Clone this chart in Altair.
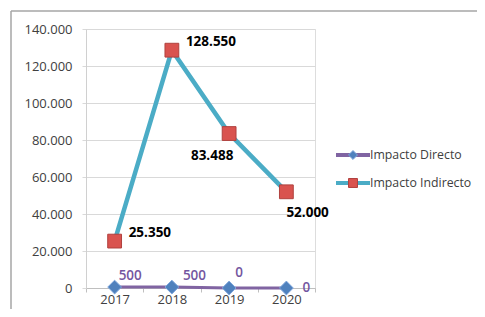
import altair as alt
import pandas as pd

years = ["2017", "2018", "2019", "2020"]
directo = [500, 500, 0, 0]
indirecto = [25350, 128550, 83488, 52000]
series = ["Impacto Directo", "Impacto Indirecto"]
y_ticks = [0, 20000, 40000, 60000, 80000, 100000, 120000, 140000]

rows = []
for i, yr in enumerate(years):
    rows.append({"year": yr, "series": series[0], "value": directo[i]})
    rows.append({"year": yr, "series": series[1], "value": indirecto[i]})
df = pd.DataFrame(rows)
leg_df = pd.DataFrame({"series": series})

FONT = "Open Sans"
fmt = "replace(format(datum.value, ','), ',', '.')"

x_enc = alt.X(
    "year:N",
    sort=years,
    bandPosition=0.5,
    scale=alt.Scale(type="band", paddingInner=0, paddingOuter=0),
    axis=alt.Axis(title=None, labelAngle=0, grid=False, tickBand="extent", tickSize=4,
                  tickColor="#bfbfbf", domainColor="#bfbfbf", labelPadding=1,
                  labelFont=FONT, labelFontSize=13, labelColor="#404040"),
)
y_enc = alt.Y(
    "value:Q",
    scale=alt.Scale(domain=[0, 140000], nice=False),
    axis=alt.Axis(title=None, values=y_ticks, grid=True, gridColor="#d9d9d9", tickSize=4,
                  tickColor="#d9d9d9", domainColor="#d0d0d0", labelPadding=10,
                  labelFont=FONT, labelFontSize=13, labelColor="#404040", labelExpr=fmt),
)

base = alt.Chart(df).encode(x=x_enc, y=y_enc)

line_ind = base.transform_filter(alt.datum.series == series[1]).mark_line(
    color="#4bacc6", strokeWidth=4.5)
line_dir = base.transform_filter(alt.datum.series == series[0]).mark_line(
    color="#8064a2", strokeWidth=3)

fill_scale = alt.Scale(domain=series, range=["#4f81bd", "#d9534f"])
shape_scale = alt.Scale(domain=series, range=["diamond", "square"])
stroke_cond = alt.condition("datum.series == 'Impacto Directo'",
                            alt.value("#7ea6dc"), alt.value("#b0413e"))

points = base.mark_point(filled=True, size=190, strokeWidth=1, opacity=1).encode(
    fill=alt.Fill("series:N", scale=fill_scale, legend=None),
    shape=alt.Shape("series:N", scale=shape_scale, legend=None),
    stroke=stroke_cond,
)

lbl_ind = dict(font=FONT, fontSize=13.5, fontWeight="bold", color="#000000")
lbl_dir = dict(font=FONT, fontSize=13.5, fontWeight=600, color="#7356a0")

def lab(ser, yrs, **kw):
    cond = "datum.series == '%s' && indexof(%s, datum.year) >= 0" % (
        ser, "[" + ",".join("'%s'" % y for y in yrs) + "]")
    return base.transform_filter(cond).transform_calculate(
        lbl="replace(format(datum.value, ','), ',', '.')"
    ).mark_text(**kw).encode(text="lbl:N")

labels = [
    lab(series[1], ["2017", "2018"], align="left", dx=14, dy=-8, **lbl_ind),
    lab(series[1], ["2019"], align="center", dx=-17, dy=22, **lbl_ind),
    lab(series[1], ["2020"], align="left", dx=0, dy=21, **lbl_ind),
    lab(series[0], ["2017"], align="left", dx=4, dy=-11, **lbl_dir),
    lab(series[0], ["2018"], align="left", dx=11, dy=-11, **lbl_dir),
    lab(series[0], ["2019"], align="left", dx=6, dy=-15, **lbl_dir),
    lab(series[0], ["2020"], align="left", dx=16, dy=0, **lbl_dir),
]

main = alt.layer(line_ind, line_dir, points, *labels)

# legend built from the series list
leg_y = alt.Y("series:N", sort=series,
              scale=alt.Scale(type="point", domain=series, range=[126, 154], padding=0),
              axis=None)
leg_base = alt.Chart(leg_df).encode(y=leg_y)
leg_line = leg_base.mark_rule(strokeWidth=4).encode(
    x=alt.value(250), x2=alt.value(284),
    color=alt.Color("series:N", scale=alt.Scale(domain=series, range=["#8064a2", "#4bacc6"]),
                    legend=None),
)
leg_pt = leg_base.mark_point(filled=True, size=80, strokeWidth=1, opacity=1).encode(
    x=alt.value(267),
    fill=alt.Fill("series:N", scale=fill_scale, legend=None),
    shape=alt.Shape("series:N", scale=shape_scale, legend=None),
    stroke=stroke_cond,
)
leg_txt = leg_base.mark_text(align="left", baseline="middle", font=FONT, fontSize=12.3,
                             color="#404040").encode(x=alt.value(284), text="series:N")
legend = alt.layer(leg_line, leg_pt, leg_txt)

one = pd.DataFrame({"a": [0]})
border_top = alt.Chart(one).mark_rule(color="#a6a6a6", strokeWidth=1.5).encode(
    x=alt.value(-75), x2=alt.value(400), y=alt.value(-18))
border_left = alt.Chart(one).mark_rule(color="#a6a6a6", strokeWidth=1.5).encode(
    x=alt.value(-75), y=alt.value(-18), y2=alt.value(300))
border = alt.layer(border_top, border_left)

chart = alt.layer(border, main, legend).resolve_scale(
    y="independent", color="independent"
).properties(
    width=229, height=259,
    autosize=alt.AutoSizeParams(type="none"),
    padding={"left": 78, "top": 21, "right": 162, "bottom": 21},
).configure_view(stroke=None).configure(background="white")

chart.save("out.html", embed_options={"renderer": "svg", "actions": False})
